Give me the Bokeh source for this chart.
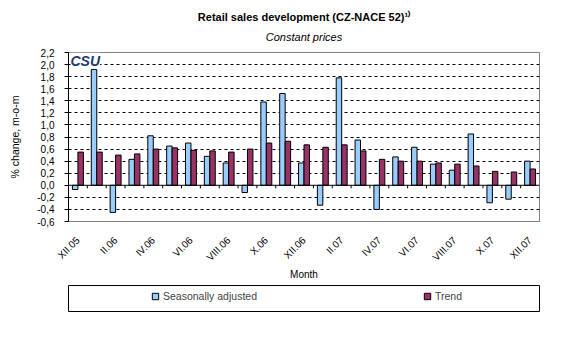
import math
from bokeh.plotting import figure
from bokeh.layouts import column
from bokeh.models import (FixedTicker, CustomJSTickFormatter, Span, Label, Legend,
                          LegendItem, Range1d, Title)
from bokeh.embed import file_html
from bokeh.resources import INLINE

months = ["XII.05", "I.06", "II.06", "III.06", "IV.06", "V.06", "VI.06", "VII.06",
          "VIII.06", "IX.06", "X.06", "XI.06", "XII.06", "I.07", "II.07", "III.07",
          "IV.07", "V.07", "VI.07", "VII.07", "VIII.07", "IX.07", "X.07", "XI.07", "XII.07"]
seasonally_adjusted = [-0.07, 1.92, -0.45, 0.43, 0.82, 0.65, 0.70, 0.48, 0.37, -0.12,
                       1.38, 1.52, 0.37, -0.33, 1.78, 0.75, -0.40, 0.47, 0.63, 0.35,
                       0.25, 0.85, -0.29, -0.23, 0.40]
trend = [0.55, 0.55, 0.50, 0.52, 0.60, 0.62, 0.58, 0.57, 0.55, 0.60, 0.70, 0.73, 0.67,
         0.63, 0.67, 0.57, 0.43, 0.40, 0.40, 0.37, 0.35, 0.32, 0.23, 0.22, 0.27]
y_ticks = [-0.6, -0.4, -0.2, 0.0, 0.2, 0.4, 0.6, 0.8, 1.0, 1.2, 1.4, 1.6, 1.8, 2.0, 2.2]
series_names = ["Seasonally adjusted", "Trend"]
series_values = [seasonally_adjusted, trend]
series_colors = ["#99CCFF", "#993366"]

FONT = "Liberation Sans"
n = len(months)
idx = list(range(n))


def set_standoff(t, val, fallback):
    try:
        t.standoff = val
    except Exception:
        t.standoff = fallback


p = figure(width=588, height=280, output_backend="svg", toolbar_location=None,
           title=None,
           x_range=Range1d(-0.5, n - 0.5), y_range=Range1d(y_ticks[0], y_ticks[-1]),
           min_border_left=66, min_border_right=5, min_border_top=52, min_border_bottom=59)
p.background_fill_color = "white"
p.border_fill_color = "white"
p.outline_line_color = "#808080"

# titles (first added is nearest to the plot)
sub = Title(text="Constant prices", align="center", offset=-68,
            text_font=FONT, text_font_size="11px", text_font_style="italic",
            text_color="black")
set_standoff(sub, 19, 19)
p.add_layout(sub, "above")
main = Title(text="Retail sales development (CZ-NACE 52)\u00b9\u207e", align="center",
             offset=-67, text_font=FONT, text_font_size="11px",
             text_font_style="bold", text_color="black")
set_standoff(main, -6, 0)
p.add_layout(main, "above")

# x axis
p.xaxis.ticker = FixedTicker(ticks=idx[::2])
p.xaxis.major_label_overrides = {i: months[i] for i in idx[::2]}
p.xaxis.major_label_orientation = math.pi / 4
p.xaxis.major_tick_line_color = None
p.xaxis.minor_tick_line_color = None
p.xaxis.axis_line_color = "#808080"
p.xaxis.major_label_text_font = FONT
p.xaxis.major_label_text_font_size = "10px"
p.xaxis.major_label_text_color = "black"
p.xaxis.major_label_standoff = 11
month = Title(text="Month", align="center", offset=-17, text_font=FONT,
              text_font_size="10px", text_font_style="normal", text_color="black")
set_standoff(month, -20, 0)
p.add_layout(month, "below")

# y axis
p.yaxis.ticker = FixedTicker(ticks=y_ticks)
p.yaxis.formatter = CustomJSTickFormatter(code="return tick.toFixed(1).replace('.', ',');")
p.yaxis.major_tick_out = 4
p.yaxis.major_tick_in = 0
p.yaxis.minor_tick_line_color = None
p.yaxis.axis_line_color = "black"
p.yaxis.major_tick_line_color = "black"
p.yaxis.major_label_text_font = FONT
p.yaxis.major_label_text_font_size = "10px"
p.yaxis.major_label_text_color = "black"
p.yaxis.major_label_standoff = 10
p.yaxis.axis_label = "% change, m-o-m"
p.yaxis.axis_label_text_font = FONT
p.yaxis.axis_label_text_font_size = "10.5px"
p.yaxis.axis_label_text_font_style = "normal"
p.yaxis.axis_label_text_color = "black"
p.yaxis.axis_label_standoff = 13

# grid
p.xgrid.visible = False
p.ygrid.ticker = FixedTicker(ticks=[t for t in y_ticks[1:-1] if abs(t) > 1e-9])
p.ygrid.grid_line_color = "black"
p.ygrid.grid_line_dash = "3 3"
p.ygrid.grid_line_width = 1

# bars
bw = 0.29
offsets = [-bw / 2, bw / 2]
for vals, col, off in zip(series_values, series_colors, offsets):
    p.vbar(x=[i + off for i in idx], top=vals, bottom=0, width=bw,
           fill_color=col, line_color="black", line_width=1)

# zero axis line and category tick marks
p.add_layout(Span(location=0, dimension="width", line_color="black", line_width=1))
bounds = [i - 0.5 for i in idx[1:]]
p.segment(x0=bounds, y0=[0] * len(bounds), x1=bounds, y1=[-0.05] * len(bounds),
          line_color="black", line_width=1)

# logo
p.add_layout(Label(x=2, y=161, x_units="screen", y_units="screen", text="CSU",
                   text_font=FONT, text_font_size="14px", text_font_style="bold italic",
                   text_color="#1F3A6E", text_baseline="middle", text_align="left",
                   background_fill_color="white"))

# legend panel (its frame outline is the legend box); the series renderers here
# lie outside its x range, so only their legend glyphs show
p2 = figure(width=588, height=80, output_backend="svg", toolbar_location=None,
            title=None, x_range=Range1d(-100, -99), y_range=Range1d(0, 1),
            min_border_left=68, min_border_right=49, min_border_top=5, min_border_bottom=49)
p2.axis.visible = False
p2.grid.visible = False
p2.outline_line_color = "black"
p2.background_fill_color = "white"
p2.border_fill_color = "white"
items = []
for name, vals, col in zip(series_names, series_values, series_colors):
    r = p2.scatter(x=idx, y=vals, marker="square", size=6,
                   fill_color=col, line_color="black", line_width=1)
    items.append(LegendItem(label=name, renderers=[r]))
legend = Legend(items=items, orientation="horizontal", location=(79, 7), padding=0,
                spacing=162, glyph_width=16, glyph_height=16, label_standoff=0,
                label_height=16, label_text_font=FONT, label_text_font_size="10.5px",
                border_line_color=None, background_fill_alpha=0, margin=0)
p2.add_layout(legend, "center")

layout = column(p, p2, spacing=0)
open("out.html", "w").write(file_html(layout, INLINE))
